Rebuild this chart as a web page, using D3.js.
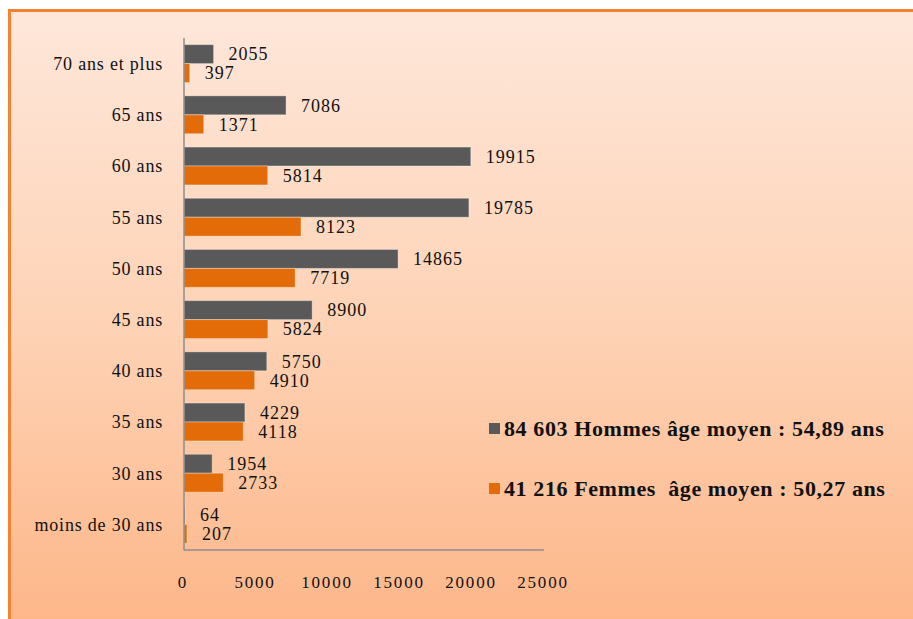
<!DOCTYPE html>
<html>
<head>
<meta charset="utf-8">
<script src="https://cdn.jsdelivr.net/npm/d3@7"></script>
<style>
  html, body { margin: 0; padding: 0; background: #fff; }
  svg { display: block; }
</style>
</head>
<body>
<div id="chart"></div>
<script>
const categories = ['70 ans et plus', '65 ans', '60 ans', '55 ans', '50 ans', '45 ans', '40 ans', '35 ans', '30 ans', 'moins de 30 ans'];
const hommes = [2055, 7086, 19915, 19785, 14865, 8900, 5750, 4229, 1954, 64];
const femmes = [397, 1371, 5814, 8123, 7719, 5824, 4910, 4118, 2733, 207];
const seriesNames = ['84 603 Hommes âge moyen : 54,89 ans', '41 216 Femmes  âge moyen : 50,27 ans'];
const seriesColors = ['#595959', '#e36c09'];
const xTicks = [0, 5000, 10000, 15000, 20000, 25000];

const width = 913, height = 619;
const plot = { left: 184, right: 544, top: 38, bottom: 550 };
const serif = '"Liberation Serif", "Times New Roman", serif';

const svg = d3.select('#chart').append('svg')
  .attr('width', width).attr('height', height);

const defs = svg.append('defs');
const grad = defs.append('linearGradient').attr('id', 'bg')
  .attr('x1', 0).attr('y1', 0).attr('x2', 0).attr('y2', 1);
grad.append('stop').attr('offset', '0%').attr('stop-color', '#fee7da');
grad.append('stop').attr('offset', '50%').attr('stop-color', '#fed3b6');
grad.append('stop').attr('offset', '100%').attr('stop-color', '#fdb688');

// frame
svg.append('rect')
  .attr('x', 9.5).attr('y', 10.5).attr('width', width + 20).attr('height', height)
  .attr('fill', 'url(#bg)').attr('stroke', '#f58231').attr('stroke-width', 3);

const x = d3.scaleLinear().domain([0, 25000]).range([plot.left, plot.right]);
const y0 = d3.scaleBand().domain(categories).range([plot.top, plot.bottom])
  .paddingInner(0.26).paddingOuter(0.13);
const y1 = d3.scaleBand().domain([0, 1]).range([0, y0.bandwidth()]);

const rows = categories.map((c, i) => ({ cat: c, vals: [hommes[i], femmes[i]] }));

const groups = svg.append('g').selectAll('g').data(rows).join('g')
  .attr('transform', d => `translate(0,${y0(d.cat)})`);

groups.selectAll('rect').data(d => d.vals.map((v, s) => ({ v, s }))).join('rect')
  .attr('x', x(0)).attr('y', d => y1(d.s))
  .attr('width', d => x(d.v) - x(0)).attr('height', y1.bandwidth())
  .attr('fill', d => seriesColors[d.s])
  .attr('stroke', 'rgba(255,255,255,0.35)').attr('stroke-width', 1);

groups.selectAll('text.val').data(d => d.vals.map((v, s) => ({ v, s }))).join('text')
  .attr('class', 'val')
  .attr('x', d => x(d.v) + 15).attr('y', d => y1(d.s) + y1.bandwidth() / 2)
  .attr('dy', '0.35em')
  .attr('font-family', serif).attr('font-size', 18).attr('letter-spacing', 1)
  .attr('fill', '#111')
  .text(d => d.v);

// category labels
svg.append('g').selectAll('text').data(categories).join('text')
  .attr('x', plot.left - 21).attr('y', d => y0(d) + y0.bandwidth() / 2)
  .attr('dy', '0.35em').attr('text-anchor', 'end')
  .attr('font-family', serif).attr('font-size', 18).attr('letter-spacing', 0.8)
  .attr('fill', '#111')
  .text(d => d);

// axes lines
svg.append('line')
  .attr('x1', plot.left).attr('x2', plot.left).attr('y1', plot.top).attr('y2', plot.bottom)
  .attr('stroke', '#8c8c8c').attr('stroke-width', 1.5);
svg.append('line')
  .attr('x1', plot.left).attr('x2', plot.right).attr('y1', plot.bottom).attr('y2', plot.bottom)
  .attr('stroke', '#8c8c8c').attr('stroke-width', 1.5);

// x tick labels
svg.append('g').selectAll('text').data(xTicks).join('text')
  .attr('x', d => x(d) - 1).attr('y', 588)
  .attr('text-anchor', 'middle')
  .attr('font-family', serif).attr('font-size', 17).attr('letter-spacing', 1.8)
  .attr('fill', '#111')
  .text(d => d);

// legend
const legend = svg.append('g').attr('transform', 'translate(489,423)');
const items = legend.selectAll('g').data(seriesNames).join('g')
  .attr('transform', (d, i) => `translate(0,${i * 60})`);
items.append('rect').attr('width', 11).attr('height', 11)
  .attr('fill', (d, i) => seriesColors[i]);
items.append('text')
  .attr('x', 15).attr('y', 13)
  .attr('font-family', serif).attr('font-size', 22).attr('font-weight', 'bold')
  .attr('letter-spacing', 0.6)
  .attr('fill', '#111').attr('xml:space', 'preserve').style('white-space', 'pre')
  .text(d => d);
</script>
</body>
</html>
